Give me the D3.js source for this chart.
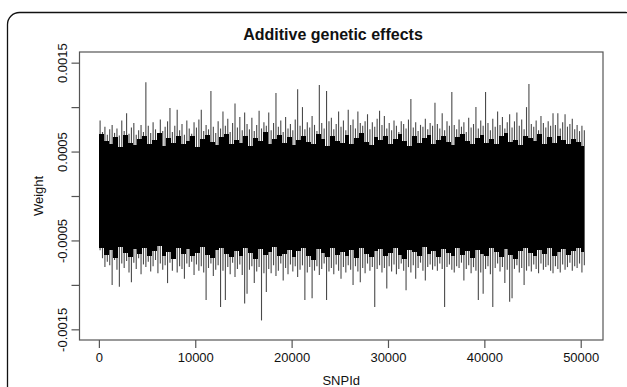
<!DOCTYPE html>
<html>
<head>
<meta charset="utf-8">
<script src="https://cdn.jsdelivr.net/npm/d3@7"></script>
<style>
  body { margin: 0; background: #fff; }
  svg { display: block; font-family: "Liberation Sans", Arial, sans-serif; }
</style>
</head>
<body>
<figure id="plot" style="margin:0"></figure>
<script>
// SNPs are summarised in bins of 250 consecutive markers (bin i covers i*250 .. i*250+249)
const binSize = 250;
const nSnp = 50300;

// largest positive weight seen in each bin
const binMax = [
  8.5e-4, 7.2e-4, 7.8e-4, 6.9e-4, 7.5e-4, 8.0e-4, 7.1e-4, 7.6e-4, 6.8e-4, 8.5e-4,
  7.3e-4, 9.3e-4, 7.0e-4, 7.7e-4, 8.2e-4, 6.9e-4, 7.4e-4, 8.0e-4, 7.2e-4, 12.8e-4,
  7.9e-4, 7.1e-4, 8.3e-4, 7.5e-4, 6.8e-4, 8.6e-4, 7.3e-4, 7.8e-4, 8.4e-4, 9.9e-4,
  7.2e-4, 7.9e-4, 9.7e-4, 7.4e-4, 8.1e-4, 6.9e-4, 8.5e-4, 7.6e-4, 7.0e-4, 8.3e-4,
  7.7e-4, 8.6e-4, 9.7e-4, 7.3e-4, 8.0e-4, 7.5e-4, 11.8e-4, 7.8e-4, 7.1e-4, 8.4e-4,
  7.6e-4, 9.5e-4, 7.9e-4, 8.7e-4, 7.2e-4, 8.2e-4, 10.4e-4, 7.7e-4, 8.9e-4, 7.4e-4,
  9.4e-4, 8.1e-4, 7.5e-4, 8.8e-4, 7.3e-4, 8.0e-4, 9.6e-4, 7.6e-4, 8.3e-4, 7.9e-4,
  9.4e-4, 7.4e-4, 8.2e-4, 11.6e-4, 7.8e-4, 8.5e-4, 7.2e-4, 8.9e-4, 7.6e-4, 8.1e-4,
  7.4e-4, 8.6e-4, 12.0e-4, 7.9e-4, 10.0e-4, 7.5e-4, 8.3e-4, 7.7e-4, 9.0e-4, 8.0e-4,
  7.3e-4, 12.5e-4, 8.2e-4, 7.6e-4, 11.8e-4, 8.4e-4, 8.8e-4, 7.5e-4, 8.1e-4, 9.5e-4,
  7.8e-4, 8.5e-4, 7.4e-4, 9.7e-4, 8.0e-4, 8.6e-4, 7.6e-4, 9.5e-4, 8.2e-4, 7.9e-4,
  8.4e-4, 9.2e-4, 7.5e-4, 8.3e-4, 7.8e-4, 8.7e-4, 9.6e-4, 8.0e-4, 9.0e-4, 7.6e-4,
  8.2e-4, 7.4e-4, 8.5e-4, 7.9e-4, 7.2e-4, 8.4e-4, 8.1e-4, 7.6e-4, 8.6e-4, 10.9e-4,
  7.7e-4, 8.3e-4, 7.3e-4, 8.0e-4, 7.8e-4, 8.7e-4, 7.5e-4, 8.2e-4, 7.9e-4, 10.5e-4,
  8.1e-4, 7.6e-4, 9.3e-4, 7.4e-4, 8.4e-4, 7.9e-4, 11.7e-4, 8.0e-4, 7.5e-4, 8.6e-4,
  7.8e-4, 8.3e-4, 7.2e-4, 8.8e-4, 7.7e-4, 8.1e-4, 10.0e-4, 7.6e-4, 8.5e-4, 7.9e-4,
  11.7e-4, 8.2e-4, 7.4e-4, 8.7e-4, 7.8e-4, 9.5e-4, 8.0e-4, 8.9e-4, 7.6e-4, 8.3e-4,
  9.2e-4, 7.7e-4, 8.4e-4, 9.4e-4, 7.9e-4, 8.6e-4, 7.5e-4, 10.0e-4, 12.6e-4, 8.1e-4,
  7.8e-4, 8.5e-4, 7.4e-4, 9.0e-4, 8.2e-4, 7.7e-4, 8.4e-4, 7.9e-4, 9.3e-4, 8.0e-4,
  9.3e-4, 7.6e-4, 8.3e-4, 9.2e-4, 7.8e-4, 8.1e-4, 8.7e-4, 7.5e-4, 8.0e-4, 7.3e-4,
  7.9e-4, 7.4e-4
];

// most negative weight seen in each bin
const binMin = [
  -6.1e-4, -7.0e-4, -8.0e-4, -7.4e-4, -7.8e-4, -10.0e-4, -7.2e-4, -8.3e-4, -10.2e-4, -7.6e-4,
  -8.1e-4, -7.3e-4, -8.6e-4, -9.7e-4, -7.5e-4, -8.2e-4, -7.0e-4, -8.8e-4, -7.7e-4, -8.0e-4,
  -7.4e-4, -8.5e-4, -7.9e-4, -7.2e-4, -8.7e-4, -7.6e-4, -8.3e-4, -7.8e-4, -9.8e-4, -7.5e-4,
  -8.4e-4, -7.1e-4, -8.6e-4, -7.9e-4, -8.2e-4, -9.3e-4, -7.6e-4, -8.0e-4, -7.4e-4, -8.9e-4,
  -7.7e-4, -8.4e-4, -7.9e-4, -8.6e-4, -11.7e-4, -8.1e-4, -7.6e-4, -9.0e-4, -8.3e-4, -7.8e-4,
  -12.5e-4, -8.4e-4, -11.7e-4, -8.0e-4, -8.8e-4, -7.5e-4, -9.1e-4, -8.2e-4, -7.7e-4, -8.9e-4,
  -12.1e-4, -11.0e-4, -8.3e-4, -7.9e-4, -9.8e-4, -8.5e-4, -8.0e-4, -14.0e-4, -8.7e-4, -10.8e-4,
  -8.2e-4, -8.7e-4, -7.8e-4, -9.0e-4, -8.4e-4, -7.6e-4, -9.5e-4, -8.1e-4, -8.8e-4, -7.7e-4,
  -8.5e-4, -7.9e-4, -9.1e-4, -8.3e-4, -7.8e-4, -11.7e-4, -8.6e-4, -8.0e-4, -11.5e-4, -8.4e-4,
  -7.9e-4, -8.9e-4, -8.2e-4, -7.6e-4, -11.7e-4, -8.5e-4, -8.1e-4, -8.8e-4, -7.7e-4, -8.4e-4,
  -9.3e-4, -8.0e-4, -8.6e-4, -7.8e-4, -8.3e-4, -10.0e-4, -7.9e-4, -8.5e-4, -9.7e-4, -8.1e-4,
  -8.7e-4, -7.6e-4, -8.4e-4, -8.0e-4, -12.5e-4, -8.2e-4, -7.8e-4, -8.6e-4, -8.1e-4, -10.4e-4,
  -7.9e-4, -8.5e-4, -7.7e-4, -8.8e-4, -8.2e-4, -7.6e-4, -8.4e-4, -10.6e-4, -8.0e-4, -8.6e-4,
  -7.8e-4, -9.3e-4, -8.1e-4, -7.5e-4, -8.4e-4, -9.5e-4, -8.0e-4, -7.7e-4, -8.3e-4, -7.9e-4,
  -8.4e-4, -7.6e-4, -8.2e-4, -12.5e-4, -8.0e-4, -7.7e-4, -8.3e-4, -8.6e-4, -7.9e-4, -8.1e-4,
  -7.5e-4, -9.5e-4, -8.2e-4, -7.8e-4, -8.7e-4, -8.0e-4, -8.4e-4, -11.7e-4, -8.6e-4, -11.0e-4,
  -8.2e-4, -7.9e-4, -8.8e-4, -12.5e-4, -8.1e-4, -7.6e-4, -8.5e-4, -8.0e-4, -9.8e-4, -8.3e-4,
  -11.9e-4, -11.5e-4, -8.2e-4, -7.8e-4, -8.6e-4, -8.1e-4, -10.0e-4, -8.4e-4, -7.9e-4, -8.5e-4,
  -7.7e-4, -8.2e-4, -8.7e-4, -7.6e-4, -8.3e-4, -8.0e-4, -7.8e-4, -8.4e-4, -8.7e-4, -7.9e-4,
  -8.2e-4, -8.6e-4, -7.7e-4, -8.3e-4, -8.0e-4, -7.5e-4, -8.4e-4, -7.9e-4, -8.1e-4, -7.6e-4,
  -8.6e-4, -7.8e-4
];

// ragged edge of the solid black mass, read in bins of 500 markers
const denseSize = 500;
const denseHi = [
  7.0e-4, 6.2e-4, 5.8e-4, 6.6e-4, 5.5e-4, 6.9e-4, 6.0e-4, 5.7e-4, 6.4e-4, 6.8e-4,
  5.9e-4, 6.3e-4, 7.1e-4, 5.6e-4, 6.5e-4, 6.0e-4, 6.8e-4, 5.8e-4, 6.2e-4, 6.7e-4,
  5.5e-4, 6.4e-4, 6.9e-4, 6.1e-4, 5.7e-4, 6.6e-4, 7.0e-4, 5.9e-4, 6.3e-4, 6.0e-4,
  6.8e-4, 5.6e-4, 6.5e-4, 6.2e-4, 7.2e-4, 5.8e-4, 6.4e-4, 6.9e-4, 6.0e-4, 6.6e-4,
  5.7e-4, 6.3e-4, 6.8e-4, 6.1e-4, 5.9e-4, 7.0e-4, 6.4e-4, 5.6e-4, 6.7e-4, 6.2e-4,
  6.0e-4, 6.9e-4, 5.8e-4, 6.5e-4, 7.1e-4, 6.1e-4, 5.7e-4, 6.6e-4, 6.3e-4, 6.8e-4,
  5.9e-4, 6.4e-4, 7.0e-4, 6.2e-4, 5.6e-4, 6.7e-4, 6.0e-4, 6.5e-4, 6.9e-4, 5.8e-4,
  6.3e-4, 6.8e-4, 6.1e-4, 5.7e-4, 6.6e-4, 7.0e-4, 6.2e-4, 5.9e-4, 6.5e-4, 6.9e-4,
  6.0e-4, 6.4e-4, 5.8e-4, 6.7e-4, 7.1e-4, 6.1e-4, 6.3e-4, 5.7e-4, 6.8e-4, 6.5e-4,
  6.2e-4, 7.0e-4, 5.9e-4, 6.6e-4, 6.0e-4, 6.8e-4, 6.3e-4, 5.8e-4, 6.4e-4, 6.1e-4,
  5.6e-4
];
const denseLo = [
  -5.8e-4, -6.6e-4, -6.1e-4, -7.0e-4, -5.7e-4, -6.4e-4, -6.9e-4, -6.0e-4, -6.5e-4, -5.9e-4,
  -6.8e-4, -6.2e-4, -5.6e-4, -6.7e-4, -6.3e-4, -7.1e-4, -5.9e-4, -6.5e-4, -6.0e-4, -6.8e-4,
  -6.4e-4, -5.7e-4, -6.6e-4, -7.0e-4, -6.1e-4, -5.8e-4, -6.5e-4, -6.9e-4, -6.2e-4, -6.7e-4,
  -5.9e-4, -6.4e-4, -7.1e-4, -6.0e-4, -6.6e-4, -6.3e-4, -5.7e-4, -6.8e-4, -6.5e-4, -6.1e-4,
  -6.9e-4, -6.2e-4, -5.8e-4, -6.7e-4, -7.2e-4, -6.0e-4, -6.4e-4, -6.9e-4, -5.9e-4, -6.6e-4,
  -6.3e-4, -6.8e-4, -6.1e-4, -7.0e-4, -5.8e-4, -6.5e-4, -6.9e-4, -6.2e-4, -6.0e-4, -6.7e-4,
  -6.4e-4, -5.9e-4, -6.6e-4, -7.1e-4, -6.1e-4, -6.3e-4, -6.8e-4, -5.7e-4, -6.5e-4, -6.2e-4,
  -6.9e-4, -6.0e-4, -6.4e-4, -6.8e-4, -5.8e-4, -6.6e-4, -6.2e-4, -7.0e-4, -6.1e-4, -6.5e-4,
  -6.7e-4, -5.9e-4, -6.3e-4, -6.9e-4, -6.0e-4, -6.6e-4, -7.1e-4, -6.2e-4, -5.8e-4, -6.4e-4,
  -6.8e-4, -6.1e-4, -6.5e-4, -5.9e-4, -6.7e-4, -6.3e-4, -6.0e-4, -6.6e-4, -6.2e-4, -5.9e-4,
  -6.3e-4
];

const xTicks = [0, 10000, 20000, 30000, 40000, 50000];
const yTicks = [-0.0015, -0.001, -0.0005, 0, 0.0005, 0.001, 0.0015];
const yLabels = ["-0.0015", "", "-0.0005", "", "0.0005", "", "0.0015"];

const W = 627, H = 387;
const box = { left: 79.5, right: 603, top: 52, bottom: 340 };

const svg = d3.select("#plot").append("svg")
  .attr("width", W)
  .attr("height", H);

// outer rounded frame of the figure panel
svg.append("rect")
  .attr("x", 7.5).attr("y", 12.5)
  .attr("width", 630).attr("height", 400)
  .attr("rx", 12).attr("ry", 12)
  .attr("fill", "none")
  .attr("stroke", "#111")
  .attr("stroke-width", 1.3);

// R style 4% padding on both axes
const x = d3.scaleLinear()
  .domain([-0.04 * nSnp, nSnp * 1.04])
  .range([box.left, box.right]);

const y = d3.scaleLinear()
  .domain([-0.00162, 0.00162])
  .range([box.bottom, box.top]);

const bins = binMax.map((v, i) => ({ snp: i * binSize + binSize / 2, hi: v, lo: binMin[i] }));
const dense = denseHi.map((v, i) => ({
  start: i * denseSize,
  end: Math.min((i + 1) * denseSize, nSnp),
  hi: v,
  lo: denseLo[i]
}));

// one vertical segment per bin, like type = "h"
svg.append("g")
  .selectAll("line")
  .data(bins)
  .enter()
  .append("line")
  .attr("x1", d => x(d.snp))
  .attr("x2", d => x(d.snp))
  .attr("y1", d => y(d.lo))
  .attr("y2", d => y(d.hi))
  .attr("stroke", "#4a4a4a")
  .attr("stroke-width", 1.1);

// the overlapping mass in the middle
svg.append("g")
  .selectAll("rect")
  .data(dense)
  .enter()
  .append("rect")
  .attr("x", d => x(d.start))
  .attr("width", d => x(d.end) - x(d.start))
  .attr("y", d => y(d.hi))
  .attr("height", d => y(d.lo) - y(d.hi))
  .attr("fill", "#000")
  .attr("shape-rendering", "crispEdges");

// plot box
svg.append("rect")
  .attr("x", box.left).attr("y", box.top)
  .attr("width", box.right - box.left)
  .attr("height", box.bottom - box.top)
  .attr("fill", "none")
  .attr("stroke", "#555")
  .attr("stroke-width", 1.2);

// x axis
const gx = svg.append("g")
  .attr("transform", "translate(0," + box.bottom + ")")
  .call(d3.axisBottom(x).tickValues(xTicks).tickFormat(d3.format("d")).tickSize(8).tickPadding(5).tickSizeOuter(0));
gx.select(".domain").remove();
gx.selectAll(".tick line").attr("stroke", "#555").attr("stroke-width", 1.2);
gx.selectAll("text").attr("font-size", 13).attr("fill", "#111");

// y axis, labels rotated like R's las = 0
const gy = svg.append("g")
  .attr("transform", "translate(" + box.left + ",0)")
  .call(d3.axisLeft(y).tickValues(yTicks).tickFormat((d, i) => yLabels[i]).tickSize(8).tickSizeOuter(0));
gy.select(".domain").remove();
gy.selectAll(".tick line").attr("stroke", "#555").attr("stroke-width", 1.2);
gy.selectAll("text")
  .attr("x", null).attr("dy", null)
  .attr("transform", "translate(-12.5,0) rotate(-90)")
  .attr("text-anchor", "middle")
  .attr("font-size", 13)
  .attr("fill", "#111");

// titles
svg.append("text")
  .attr("x", 333).attr("y", 40)
  .attr("text-anchor", "middle")
  .attr("font-size", 16)
  .attr("font-weight", "bold")
  .attr("fill", "#111")
  .text("Additive genetic effects");

svg.append("text")
  .attr("x", (box.left + box.right) / 2).attr("y", 385)
  .attr("text-anchor", "middle")
  .attr("font-size", 13)
  .attr("fill", "#111")
  .text("SNPId");

svg.append("text")
  .attr("transform", "translate(43," + (box.top + box.bottom) / 2 + ") rotate(-90)")
  .attr("text-anchor", "middle")
  .attr("font-size", 13)
  .attr("fill", "#111")
  .text("Weight");
</script>
</body>
</html>
